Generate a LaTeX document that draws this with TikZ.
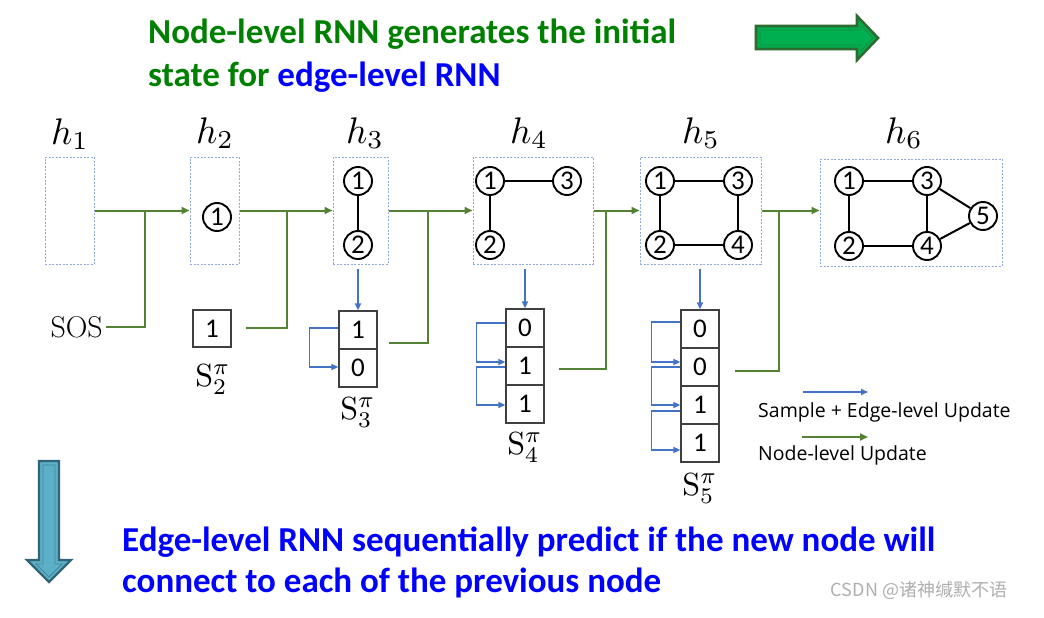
\documentclass[tikz,border=0pt]{standalone}
\usepackage{fontspec}
\usetikzlibrary{arrows.meta,calc}
\newfontfamily\titlefont{Carlito}
\newfontfamily\legfont{Open Sans}
\newfontfamily\cjk{Noto Sans CJK SC}
\definecolor{tgreen}{RGB}{0,128,0}
\definecolor{tblue}{RGB}{0,0,255}
\definecolor{ngreen}{RGB}{84,130,53}
\definecolor{eblue}{RGB}{68,114,196}
\definecolor{boxblue}{RGB}{143,170,220}
\definecolor{cellgray}{RGB}{64,64,64}
\definecolor{arrgreen}{RGB}{0,176,80}
\definecolor{arrgreenb}{RGB}{46,107,48}
\definecolor{arrteal}{RGB}{91,176,200}
\definecolor{arrtealb}{RGB}{49,100,120}
\definecolor{wmgray}{RGB}{175,175,175}
\begin{document}
\begin{tikzpicture}[x=1pt,y=-1pt,
  hbox/.style={draw=boxblue,dash pattern=on 2pt off 1.5pt,line width=1pt,inner sep=0pt},
  gnode/.style={circle,draw=black,line width=1.9pt,minimum size=28pt,inner sep=0pt,font=\titlefont\fontsize{27}{27}\selectfont},
  gedge/.style={line width=2pt,black},
  cell/.style={draw=cellgray,line width=1.3pt,minimum width=38pt,minimum height=38pt,inner sep=0pt,font=\titlefont\fontsize{27}{27}\selectfont},
  narrow/.style={draw=ngreen,line width=2pt,-{Triangle[length=8pt,width=7pt]}},
  nline/.style={draw=ngreen,line width=2pt},
  earrow/.style={draw=eblue,line width=1.6pt,-{Triangle[length=7pt,width=6pt]}},
  hlab/.style={scale=3.7,inner sep=0pt},
  slab/.style={scale=3.2,inner sep=0pt},
  ttext/.style={anchor=base west,inner sep=0pt,font=\titlefont\bfseries\fontsize{35}{35}\selectfont},
  legtext/.style={anchor=west,inner sep=0pt,font=\legfont\fontsize{19.5}{19.5}\selectfont},
]
\useasboundingbox[fill=white] (0,0) rectangle (1044,618);

% titles
\node[ttext,text=tgreen] (t1) at (148,44) {Node-level RNN generates the initial};
\node[ttext,text=tgreen] (t2) at (148,86) {state for \textcolor{tblue}{edge-level RNN}};
\node[ttext,text=tblue] (b1t) at (122,551) {Edge-level RNN sequentially predict if the new node will};
\node[ttext,text=tblue] (b2t) at (122,592) {connect to each of the previous node};
\node[inner sep=0pt,text=wmgray,font=\cjk\fontsize{18}{18}\selectfont] (wm) at (919,590) {CSDN @诸神缄默不语};

% big arrows
\draw[fill=arrgreen,draw=arrgreenb,line width=2.6pt,line join=miter]
  (756,26) -- (857,26) -- (857,16) -- (878,38) -- (857,60) -- (857,49) -- (756,49) -- cycle;
\draw[draw=arrgreenb!55!arrgreen,line width=0.8pt,line join=miter]
  (760,30) -- (861,30) -- (861,25) -- (873,38) -- (861,51) -- (861,45) -- (760,45) -- cycle;
\draw[fill=arrteal,draw=arrtealb,line width=2.4pt,line join=miter]
  (39,461) -- (59,461) -- (59,560) -- (71,560) -- (49,582) -- (27,560) -- (39,560) -- cycle;
\draw[draw=arrtealb!55!arrteal,line width=0.8pt,line join=miter]
  (43,465) -- (55,465) -- (55,564) -- (62,564) -- (49,577) -- (36,564) -- (43,564) -- cycle;

% h labels
\node[hlab] (h1) at (70,134) {$h_1$};
\node[hlab] (h2) at (215,133) {$h_2$};
\node[hlab] (h3) at (365,133) {$h_3$};
\node[hlab] (h4) at (529,133) {$h_4$};
\node[hlab] (h5) at (701,133) {$h_5$};
\node[hlab] (h6) at (904,133) {$h_6$};

% dashed boxes
\node[hbox,minimum width=49pt,minimum height=107pt] (b1) at (69.5,210.5) {};
\node[hbox,minimum width=49pt,minimum height=107pt] (b2) at (214.5,210.5) {};
\node[hbox,minimum width=55pt,minimum height=107pt] (b3) at (360.5,210.5) {};
\node[hbox,minimum width=120pt,minimum height=107pt] (b4) at (533,210.5) {};
\node[hbox,minimum width=121pt,minimum height=107pt] (b5) at (700.5,210.5) {};
\node[hbox,minimum width=182pt,minimum height=107pt] (b6) at (911,212.5) {};

% graphs
\node[gnode] (g21) at (217,217) {1};

\node[gnode] (g31) at (358,181) {1};
\node[gnode] (g32) at (358,245) {2};
\draw[gedge] (g31) -- (g32);

\node[gnode] (g41) at (490,181) {1};
\node[gnode] (g42) at (490,245) {2};
\node[gnode] (g43) at (567,181) {3};
\draw[gedge] (g41) -- (g42);
\draw[gedge] (g41) -- (g43);

\node[gnode] (g51) at (660,181) {1};
\node[gnode] (g52) at (660,245) {2};
\node[gnode] (g53) at (738,181) {3};
\node[gnode] (g54) at (738,245) {4};
\draw[gedge] (g51) -- (g52);
\draw[gedge] (g51) -- (g53);
\draw[gedge] (g53) -- (g54);
\draw[gedge] (g52) -- (g54);

\node[gnode] (g61) at (849,181) {1};
\node[gnode] (g62) at (849,246) {2};
\node[gnode] (g63) at (927,181) {3};
\node[gnode] (g64) at (927,246) {4};
\node[gnode] (g65) at (983,216) {5};
\draw[gedge] (g61) -- (g62);
\draw[gedge] (g61) -- (g63);
\draw[gedge] (g63) -- (g64);
\draw[gedge] (g62) -- (g64);
\draw[gedge] (g63) -- (g65);
\draw[gedge] (g64) -- (g65);

% sequences
\node[inner sep=3pt,anchor=east,font=\fontsize{30}{30}\selectfont] (sos) at (106,327) {SOS};
\node[cell,minimum height=37pt] (c21) at (212,328.5) {1};
\node[cell] (c31) at (358,330) {1};
\node[cell] (c32) at (358,368) {0};
\node[cell] (c41) at (525,328) {0};
\node[cell] (c42) at (525,366) {1};
\node[cell] (c43) at (525,404) {1};
\node[cell] (c51) at (700,329) {0};
\node[cell] (c52) at (700,367) {0};
\node[cell] (c53) at (700,405) {1};
\node[cell] (c54) at (700,443) {1};

\node[slab] (s2) at (213,379) {$\mathrm{S}^{\pi}_{2}$};
\node[slab] (s3) at (358,412) {$\mathrm{S}^{\pi}_{3}$};
\node[slab] (s4) at (525,447) {$\mathrm{S}^{\pi}_{4}$};
\node[slab] (s5) at (700,488) {$\mathrm{S}^{\pi}_{5}$};

% node-level (green) connectors
\draw[narrow] (b1.east) -- (b2.west);
\draw[narrow] (b2.east) -- (b3.west);
\draw[narrow] (b3.east) -- (b4.west);
\draw[narrow] (b4.east) -- (b5.west);
\draw[narrow] (b5.east) -- (b5.east -| b6.west);
\coordinate (j1) at (145,210.5);
\coordinate (j2) at (287,210.5);
\coordinate (j3) at (428,210.5);
\coordinate (j4) at (606,210.5);
\coordinate (j5) at (779,210.5);
\coordinate (o2) at (246,328);
\coordinate (o3) at (389,343);
\coordinate (o4) at (559,369);
\coordinate (o5) at (735,371);
\draw[nline] (sos.east) -| (j1);
\draw[nline] (o2) -| (j2);
\draw[nline] (o3) -| (j3);
\draw[nline] (o4) -| (j4);
\draw[nline] (o5) -| (j5);

% edge-level (blue) connectors
\draw[earrow,shorten <=4pt] (b3.south -| c31.north) -- (c31.north);
\draw[earrow,shorten <=4pt] (b4.south -| c41.north) -- (c41.north);
\draw[earrow,shorten <=4pt] (b5.south -| c51.north) -- (c51.north);

\draw[earrow] ($(c31.west)+(0,-2)$) -- ++(-29,0) |- ($(c32.west)+(0,-1)$);
\draw[earrow] ($(c41.west)+(0,-5)$) -- ++(-29,0) |- ($(c42.west)+(0,-4)$);
\draw[earrow] ($(c42.west)+(0,1)$) -- ++(-29,0) |- ($(c43.west)+(0,1)$);
\draw[earrow] ($(c51.west)+(0,-7)$) -- ++(-29,0) |- ($(c52.west)+(0,-5)$);
\draw[earrow] ($(c52.west)+(0,0)$) -- ++(-29,0) |- ($(c53.west)+(0,0)$);
\draw[earrow] ($(c53.west)+(0,6)$) -- ++(-29,0) |- ($(c54.west)+(0,7)$);

% legend
\coordinate (l1s) at (803,392);
\coordinate (l1e) at (868,392);
\coordinate (l2s) at (802,437);
\coordinate (l2e) at (868,437);
\draw[earrow] (l1s) -- (l1e);
\draw[narrow] (l2s) -- (l2e);
\node[legtext] (lt1) at (758,412) {Sample + Edge-level Update};
\node[legtext] (lt2) at (758,455) {Node-level Update};
\end{tikzpicture}
\end{document}
